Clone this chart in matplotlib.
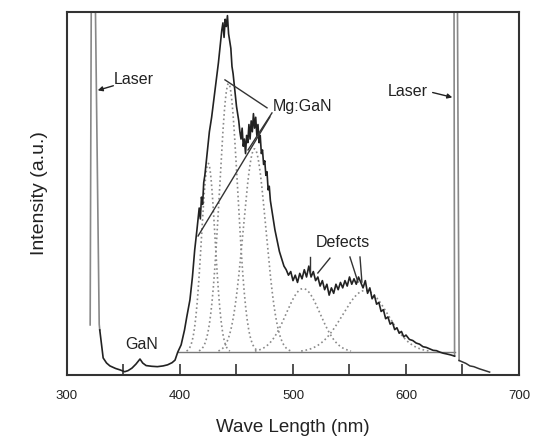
import numpy as np
import matplotlib
matplotlib.use("Agg")
import matplotlib.pyplot as plt

plt.rcParams['font.family'] = ['Liberation Sans', 'DejaVu Sans']

# measured spectrum (wavelength nm, intensity a.u.)
wl_uv = [329, 332, 335, 338, 343, 347, 351, 354, 357.5, 361, 364.6, 367, 370, 375, 380, 385, 389, 393, 395.6]
int_uv = [12.4, 4.7, 3.3, 2.5, 1.8, 1.4, 0.9, 1.2, 1.9, 3.0, 4.4, 3.3, 2.6, 2.4, 2.3, 2.5, 2.8, 3.4, 4.1]

wl_main = [398, 401, 404, 406, 408.8, 411, 413, 415, 417, 418, 419, 420, 421, 422, 424, 426, 428, 430,
           432, 434, 435, 436, 437, 438, 439, 440, 441, 442, 443, 444, 445, 446, 447, 448, 449, 450,
           451, 452, 453, 454, 455, 456, 457, 458, 459, 460, 461, 462, 463, 464, 465, 466, 467, 468,
           469, 470, 471, 472, 473, 474, 475, 476, 477, 478, 479, 480, 482, 484, 486, 488, 490, 492,
           494, 496, 498, 500, 502, 504, 506, 508, 510, 512, 514, 516, 518, 520, 522, 524, 526, 528,
           530, 532, 534, 536, 538, 540, 542, 544, 546, 548, 550, 552, 554, 556, 558, 560, 562, 564,
           566, 568, 570, 572, 574, 576, 578, 580, 582, 584, 586, 588, 590, 592, 594, 596, 598, 600,
           603, 606, 609, 612, 615, 618, 621, 624, 627, 630, 633, 636, 640, 643]
int_main = [6.3, 8.3, 12.4, 16, 20.7, 27, 34.4, 40, 46, 43, 49, 47, 53, 55, 61, 67, 71, 76,
            81, 86, 89, 92, 95, 97, 93, 98, 96, 99, 94, 92, 90, 85, 83, 80, 77, 74,
            72, 70, 67, 65, 68, 63, 65, 61, 66, 64, 69, 65, 70, 67, 72, 68, 71, 66,
            69, 64, 66, 61, 62, 58, 59, 55, 56, 51, 52, 48, 44, 40, 37, 34, 32, 30,
            29, 27.5, 28.5, 26, 27.5, 25.5, 28, 26.5, 29, 27, 30, 27, 28.5, 26, 27, 24.5, 26, 23.5,
            25, 22, 24, 22.5, 25, 23.5, 25.5, 24, 26, 24.5, 27, 25, 26.5, 25, 27, 25.5, 24, 26,
            22.5, 24, 21, 22, 19.5, 20, 17.5, 18, 15.5, 16, 14, 14.5, 12.5, 13, 11.5, 12, 10.5, 11,
            9.8, 9.5, 8.8, 8.5, 7.8, 7.6, 7.2, 6.8, 6.7, 6.3, 6.0, 5.8, 5.5, 5.2]

wl_tail = [647, 650, 653, 656.6, 660, 665, 670, 674]
int_tail = [4.0, 3.6, 3.2, 2.5, 2.3, 1.7, 1.2, 0.8]

# laser lines (narrow peaks, off scale)
laser1_wl = [320.5, 321.5, 325, 328.5, 329]
laser1_int = [13.8, 105, 105, 14, 12.4]
laser2_wl = [643, 642.5, 645.5, 647]
laser2_int = [5.2, 105, 105, 4.0]

# fitted gaussian components: center, sigma, amplitude above baseline
baseline = 6.3
g_center = [425, 443, 466, 509, 564]
g_sigma = [6, 8, 10, 15, 20]
g_amp = [52, 74, 56, 17.5, 17]

fig = plt.figure(figsize=(5.33, 4.44), dpi=100)
ax = fig.add_axes([0.1257, 0.1554, 0.848, 0.8176])

xg = np.linspace(398, 643, 600)
for c, s, a in zip(g_center, g_sigma, g_amp):
    yg = baseline + a * np.exp(-0.5 * ((xg - c) / s) ** 2)
    m = yg > baseline + 0.3
    ax.plot(xg[m], yg[m], ls=':', color='#8a8a8a', lw=1.2)

ax.plot([398, 643], [baseline, baseline], color='#777777', lw=1.0)

ax.plot(laser1_wl, laser1_int, color='#888888', lw=1.2)
ax.plot(laser2_wl, laser2_int, color='#888888', lw=1.2)
ax.plot(wl_uv + wl_main, int_uv + int_main, color='#222222', lw=1.2)
ax.plot(wl_tail, int_tail, color='#333333', lw=1.1)

tc = '#222222'
fs = 11.5
ax.text(359.3, 81.3, 'Laser', fontsize=fs, color=tc, ha='center', va='center')
ax.annotate('', xy=(324.8, 78.2), xytext=(343.4, 79.9),
            arrowprops=dict(arrowstyle='-|>', color=tc, lw=1, mutation_scale=7))
ax.text(601.8, 78, 'Laser', fontsize=fs, color=tc, ha='center', va='center')
ax.annotate('', xy=(643.4, 76.3), xytext=(621.2, 78),
            arrowprops=dict(arrowstyle='-|>', color=tc, lw=1, mutation_scale=7))

ax.text(508, 74.1, 'Mg:GaN', fontsize=fs, color=tc, ha='center', va='center')
ax.plot([477, 439.8], [73.6, 81.3], color='#333333', lw=1)
ax.plot([479.6, 416], [71.1, 38.3], color='#333333', lw=1)
ax.plot([481.4, 460.2], [72.2, 62], color='#333333', lw=1)

ax.text(544.2, 36.4, 'Defects', fontsize=fs, color=tc, ha='center', va='center')
ax.plot([515, 515], [32.5, 28.1], color='#333333', lw=1)
ax.plot([532.7, 522], [32.2, 28.1], color='#333333', lw=1)
ax.plot([550.4, 557.5], [32.5, 25.6], color='#333333', lw=1)
ax.plot([559.3, 561], [32.5, 25.6], color='#333333', lw=1)

ax.text(366.4, 8.3, 'GaN', fontsize=fs, color=tc, ha='center', va='center')

ax.set_xlim(300, 700)
ax.set_ylim(0, 100)
ax.set_xticks([300, 400, 500, 600, 700])
ax.set_xticks([350, 450, 550, 650], minor=True)
ax.tick_params(axis='x', which='both', direction='in', length=8, width=1.2, color='#333333',
               labelsize=9.5, pad=11, labelcolor=tc)
ax.set_yticks([])
for sp in ax.spines.values():
    sp.set_color('#333333')
    sp.set_linewidth(1.5)

ax.set_xlabel('Wave Length (nm)', fontsize=13.5, color=tc, labelpad=12)
ax.set_ylabel('Intensity (a.u.)', fontsize=14, color=tc, labelpad=14)

fig.savefig('out.png', dpi=100)
